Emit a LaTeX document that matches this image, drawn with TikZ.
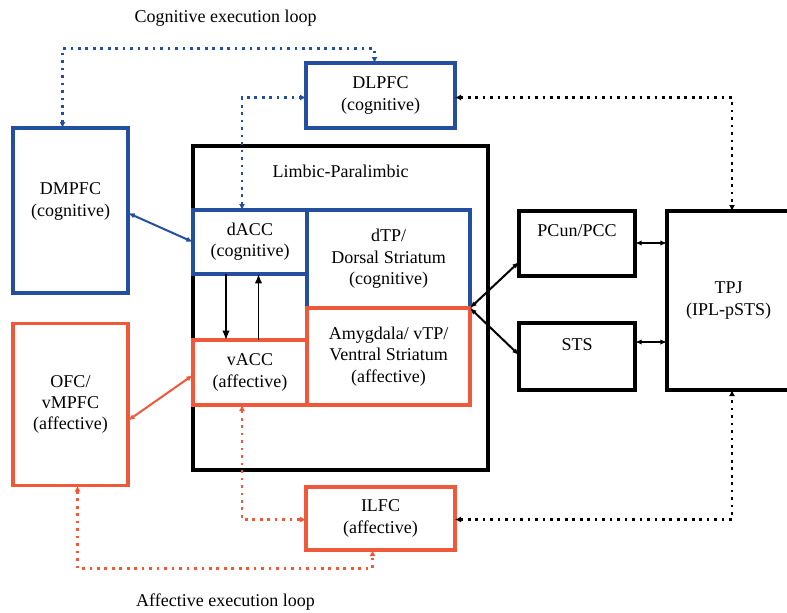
\documentclass[tikz,border=0pt]{standalone}
\usepackage{fontspec}
\setmainfont{Liberation Serif}
\usetikzlibrary{positioning,arrows.meta,calc}
\definecolor{CogBlue}{RGB}{36,78,160}
\definecolor{AffRed}{RGB}{240,88,58}

\begin{document}
\begin{tikzpicture}[
  x=0.75pt, y=-0.75pt,
  font=\fontsize{13.5}{16}\selectfont,
  box/.style 2 args={draw, line width=2.7pt, outer sep=0pt, align=center, inner sep=2pt,
                     minimum width=#1*0.75pt, minimum height=#2*0.75pt},
  cog/.style={draw=CogBlue},
  aff/.style={draw=AffRed},
  txt/.style={inner sep=1pt, align=center},
  link/.style={{Latex[length=5pt,width=4pt]}-{Latex[length=5pt,width=4pt]}, line width=1.5pt},
  oneway/.style={-{Latex[length=7pt,width=5.5pt]}, line width=1pt},
  loopline/.style={{Latex[length=4.5pt,width=4.5pt]}-{Latex[length=4.5pt,width=4.5pt]}, line width=2.2pt,
                   dash pattern=on 2pt off 3.6pt},
]
\useasboundingbox (0,0) rectangle (787,612);

% ============ LIMBIC-PARALIMBIC (middle) ============
\node[box={295}{324}] (limbic) at (340.5,308) {};
\node[txt, below=13pt of limbic.north] (limbiclbl) {Limbic-Paralimbic};

\node[box={114}{64}, cog] (dacc) at (250,242) {dACC\\(cognitive)};
\node[box={163}{98}, cog] (dtp) at (388.5,259) {dTP/\\Dorsal Striatum\\(cognitive)};
\node[box={114}{65}, aff] (vacc) at (250,372.5) {vACC\\(affective)};
\node[box={163}{97}, aff] (amyg) at (388.5,356.5) {Amygdala/ vTP/\\Ventral Striatum\\(affective)};

\draw[oneway] ($(dacc.south)+(-24,0)$) -- ($(vacc.north)+(-24,0)$);
\draw[oneway] ($(vacc.north)+(8.5,0)$) -- ($(dacc.south)+(8.5,0)$);

% ============ PREFRONTAL (left, top, bottom) ============
\node[box={149}{65}, cog] (dlpfc) at (380.5,95.5) {DLPFC\\(cognitive)};
\node[box={115}{165}, cog] (dmpfc) at (70.5,210.5) {};
\node[txt] (dmpfclbl) at ($(dmpfc.center)+(0,-9)$) {DMPFC\\(cognitive)};
\node[box={115}{162}, aff] (ofc) at (70.5,404.5) {OFC/\\vMPFC\\(affective)};
\node[box={149}{63}, aff] (ilfc) at (380.5,518.5) {ILFC\\(affective)};

\draw[link, CogBlue] ($(dmpfc.north east)+(0,85)$) -- (dacc.west);
\draw[link, AffRed] ($(ofc.north east)+(0,97)$) -- ($(vacc.west)+(0,2.5)$);

% ============ POSTERIOR (right) ============
\node[box={116}{65}] (pcun) at (577,243.5) {};
\node[txt] (pcunlbl) at ($(pcun.north)+(0,20)$) {PCun/PCC};
\node[box={116}{67}] (sts) at (577,356.5) {};
\node[txt] (stslbl) at ($(sts.north)+(0,22)$) {STS};
\node[box={123}{179}] (tpj) at (728.5,300.5) {TPJ\\(IPL-pSTS)};

\coordinate (hub) at (dtp.south east);
\draw[link] (hub) -- ($(pcun.north west)+(0,51)$);
\draw[link] (hub) -- ($(sts.north west)+(0,32)$);
\draw[link] ($(pcun.north east)+(0,32)$) -- ($(tpj.north west)+(0,32)$);
\draw[link] ($(sts.north east)+(0,19)$) -- ($(tpj.north west)+(0,131)$);

% ============ DOTTED LOOPS ============
\coordinate (cogtop) at (0,48.5);
\coordinate (afftop) at (0,568.5);
\coordinate (dmpin) at ($(dmpfc.north)+(-8,0)$);
\coordinate (dlpin) at ($(dlpfc.north)+(-6,0)$);
\coordinate (ofcin) at ($(ofc.south)+(7,0)$);
\coordinate (ilfin) at ($(ilfc.south)+(-8,0)$);

\draw[loopline, CogBlue] (dmpin) -- (dmpin |- cogtop) -| (dlpin);
\draw[loopline, CogBlue] ($(dacc.north)+(-8,0)$) |- ($(dlpfc.west)+(0,2)$);
\draw[loopline] ($(dlpfc.east)+(0,2)$) -| ($(tpj.north)+(3.5,0)$);
\draw[loopline, AffRed] ($(vacc.south)+(-8,0)$) |- ($(ilfc.west)+(0,1)$);
\draw[loopline] ($(ilfc.east)+(0,1)$) -| ($(tpj.south)+(3.5,0)$);
\draw[loopline, AffRed] (ofcin) -- (ofcin |- afftop) -| (ilfin);

\node[txt] (coglbl) at (225.5,18) {Cognitive execution loop};
\node[txt] (afflbl) at (225.5,602) {Affective execution loop};

\end{tikzpicture}
\end{document}
